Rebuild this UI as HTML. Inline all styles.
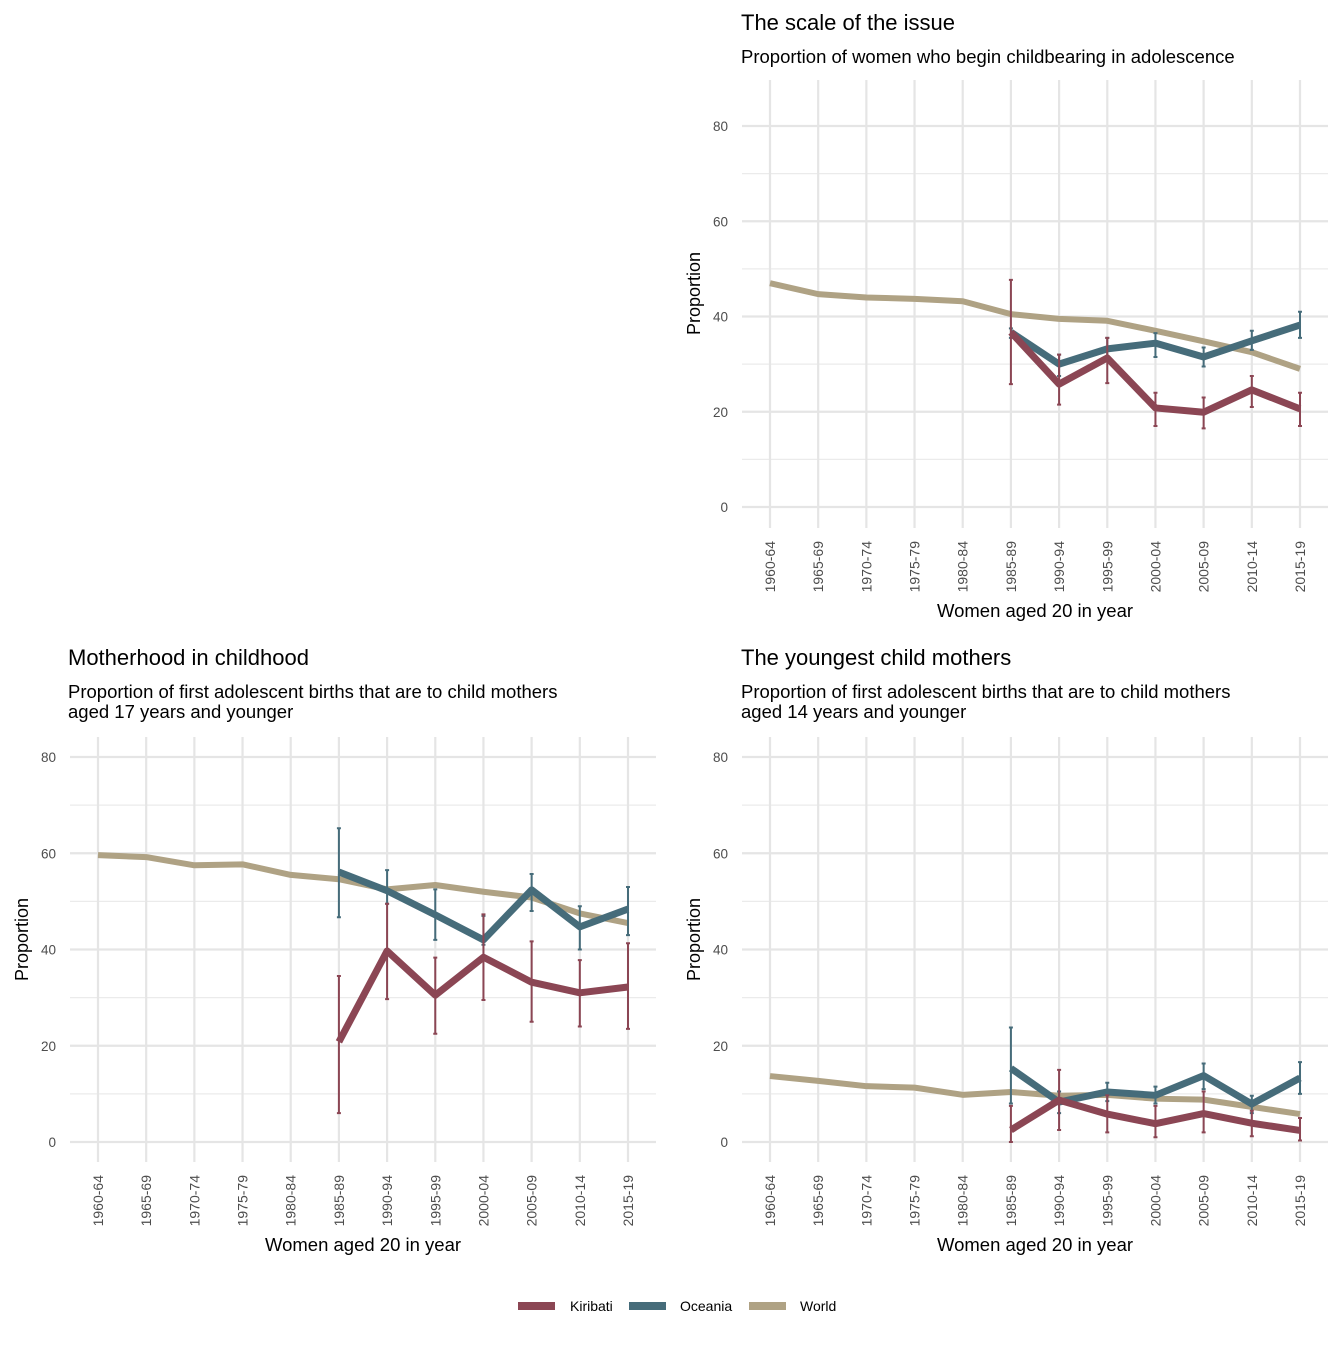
<!DOCTYPE html>
<html><head><meta charset="utf-8"><style>
body{margin:0;background:#fff;font-family:"Liberation Sans",Arial,sans-serif}
</style></head><body>
<svg id="c" width="1344" height="1344" xmlns="http://www.w3.org/2000/svg" font-family="Liberation Sans, Arial, sans-serif"></svg>
<script>
const categories=["1960-64","1965-69","1970-74","1975-79","1980-84","1985-89","1990-94","1995-99","2000-04","2005-09","2010-14","2015-19"];
const yTicks=[0,20,40,60,80];
// panel 1: scale of the issue
const p1World=[47.0,44.7,44.0,43.7,43.2,40.5,39.5,39.1,37.0,34.8,32.5,29.0];
const p1Oce=[null,null,null,null,null,36.7,30.0,33.2,34.4,31.5,34.9,38.2];
const p1OceLo=[null,null,null,null,null,35.5,27.5,31.0,31.5,29.5,33.0,35.5];
const p1OceHi=[null,null,null,null,null,37.5,32.0,35.5,36.5,33.5,37.0,41.0];
const p1Kir=[null,null,null,null,null,36.7,25.8,31.3,20.8,19.9,24.6,20.6];
const p1KirLo=[null,null,null,null,null,25.8,21.5,26.0,17.0,16.5,21.0,17.0];
const p1KirHi=[null,null,null,null,null,47.7,32.0,35.5,24.0,23.0,27.5,24.0];
// panel 2: motherhood in childhood
const p2World=[59.6,59.2,57.5,57.7,55.5,54.6,52.5,53.4,52.0,50.8,47.5,45.5];
const p2Oce=[null,null,null,null,null,56.1,52.2,47.2,42.0,52.4,44.7,48.4];
const p2OceLo=[null,null,null,null,null,46.7,49.5,42.0,41.0,48.0,40.0,43.0];
const p2OceHi=[null,null,null,null,null,65.2,56.5,52.5,47.0,55.7,49.0,53.0];
const p2Kir=[null,null,null,null,null,20.8,39.7,30.5,38.4,33.2,31.0,32.2];
const p2KirLo=[null,null,null,null,null,6.0,29.7,22.5,29.5,25.0,24.0,23.5];
const p2KirHi=[null,null,null,null,null,34.5,49.5,38.3,47.3,41.7,37.8,41.3];
// panel 3: youngest child mothers
const p3World=[13.7,12.7,11.6,11.3,9.8,10.4,9.6,9.8,9.0,8.8,7.3,5.8];
const p3Oce=[null,null,null,null,null,15.3,8.3,10.4,9.7,13.8,7.9,13.3];
const p3OceLo=[null,null,null,null,null,8.0,6.0,8.5,8.0,11.0,6.0,10.0];
const p3OceHi=[null,null,null,null,null,23.8,10.5,12.3,11.5,16.3,9.6,16.6];
const p3Kir=[null,null,null,null,null,2.5,8.7,5.8,3.8,5.9,3.9,2.4];
const p3KirLo=[null,null,null,null,null,0.0,2.5,2.0,1.0,2.0,1.2,0.3];
const p3KirHi=[null,null,null,null,null,7.5,15.0,9.7,7.5,10.5,6.5,5.0];

const C={Kiribati:"#8B4654",Oceania:"#466C7A",World:"#AFA284"};
const svg=document.getElementById('c');
const NS="http://www.w3.org/2000/svg";
function mk(tag,attrs,parent){const e=document.createElementNS(NS,tag);for(const k in attrs)e.setAttribute(k,attrs[k]);(parent||svg).appendChild(e);return e;}

function panel(cfg){
  const g=mk('g',{});
  
  
  const xs=i=>cfg.x0+i*(cfg.x1-cfg.x0)/(categories.length-1);
  const ys=v=>cfg.yb-v*(cfg.yb-cfg.y80)/80;
  for(let v=10;v<=90;v+=20){const y=ys(v);if(y<cfg.top)continue;const l=mk('line',{x1:cfg.left,x2:cfg.right,y1:y,y2:y,stroke:"#ebebeb","stroke-width":1.2},g);}
  yTicks.forEach(v=>{const y=ys(v);const l=mk('line',{x1:cfg.left,x2:cfg.right,y1:y,y2:y,stroke:"#e5e5e5","stroke-width":2.2},g);
    const t=mk('text',{x:cfg.left-14,y:y+5,"text-anchor":"end","font-size":13.5,fill:"#4d4d4d"},g);t.textContent=v;});
  categories.forEach((c,i)=>{const x=xs(i);const l=mk('line',{x1:x,x2:x,y1:cfg.top,y2:cfg.bottom,stroke:"#e5e5e5","stroke-width":2.2},g);
    const ty=cfg.bottom+13, bx=x+5;const t=mk('text',{x:bx,y:ty,"text-anchor":"end","font-size":14,fill:"#4d4d4d",transform:`rotate(-90 ${bx} ${ty})`},g);t.textContent=c;});
  const tt=mk('text',{x:cfg.tx,y:cfg.ty,"font-size":22,fill:"#000"},g);tt.textContent=cfg.title;
  cfg.sub.forEach((s,k)=>{const t=mk('text',{x:cfg.tx,y:cfg.ty+33+k*20,"font-size":18.5,fill:"#000"},g);t.textContent=s;});
  const ya=(cfg.top+cfg.yb)/2, yx=cfg.left-42;
  const yt=mk('text',{x:yx,y:ya,"text-anchor":"middle","font-size":18,transform:`rotate(-90 ${yx} ${ya})`},g);yt.textContent="Proportion";
  const xt=mk('text',{x:(cfg.x0+cfg.x1)/2,y:cfg.bottom+89,"text-anchor":"middle","font-size":18.5},g);xt.textContent="Women aged 20 in year";
  function series(vals,col,w,nm){let d="";vals.forEach((v,i)=>{if(v==null)return;d+=(d?"L":"M")+xs(i)+" "+ys(v);});const p=mk('path',{d:d,fill:"none",stroke:col,"stroke-width":w,"stroke-linejoin":"round","stroke-linecap":"butt"},g);}
  function errs(lo,hi,col,nm){lo.forEach((v,i)=>{if(v==null)return;const x=xs(i);const p=mk('path',{d:`M${x-2} ${ys(lo[i])}H${x+2}M${x} ${ys(lo[i])}V${ys(hi[i])}M${x-2} ${ys(hi[i])}H${x+2}`,stroke:col,"stroke-width":2,fill:"none"},g);});}
  series(cfg.world,C.World,6,'world-line');
  errs(cfg.oLo,cfg.oHi,C.Oceania,'oceania-error-bar');
  series(cfg.oce,C.Oceania,7,'oceania-line');
  errs(cfg.kLo,cfg.kHi,C.Kiribati,'kiribati-error-bar');
  series(cfg.kir,C.Kiribati,7,'kiribati-line');
}
panel({name:'panel-scale-of-issue',x0:770,x1:1300,left:742,right:1328,top:80,bottom:528,yb:507,y80:126,tx:741,ty:30,title:"The scale of the issue",sub:["Proportion of women who begin childbearing in adolescence"],world:p1World,oce:p1Oce,oLo:p1OceLo,oHi:p1OceHi,kir:p1Kir,kLo:p1KirLo,kHi:p1KirHi});
panel({name:'panel-motherhood-in-childhood',x0:98,x1:628,left:70,right:656,top:737,bottom:1162,yb:1142,y80:757,tx:68,ty:665,title:"Motherhood in childhood",sub:["Proportion of first adolescent births that are to child mothers","aged 17 years and younger"],world:p2World,oce:p2Oce,oLo:p2OceLo,oHi:p2OceHi,kir:p2Kir,kLo:p2KirLo,kHi:p2KirHi});
panel({name:'panel-youngest-child-mothers',x0:770,x1:1300,left:742,right:1328,top:737,bottom:1162,yb:1142,y80:757,tx:741,ty:665,title:"The youngest child mothers",sub:["Proportion of first adolescent births that are to child mothers","aged 14 years and younger"],world:p3World,oce:p3Oce,oLo:p3OceLo,oHi:p3OceHi,kir:p3Kir,kLo:p3KirLo,kHi:p3KirHi});
const lg=mk('g',{});


[["Kiribati",518,570],["Oceania",629,680],["World",749,800]].forEach(([n,lx,tx])=>{
  const l=mk('line',{x1:lx,x2:lx+37,y1:1306,y2:1306,stroke:C[n],"stroke-width":8},lg);
  
  
  const t=mk('text',{x:tx,y:1311,"font-size":14,fill:"#000"},lg);t.textContent=n;
  
  
});
</script>
</body></html>
